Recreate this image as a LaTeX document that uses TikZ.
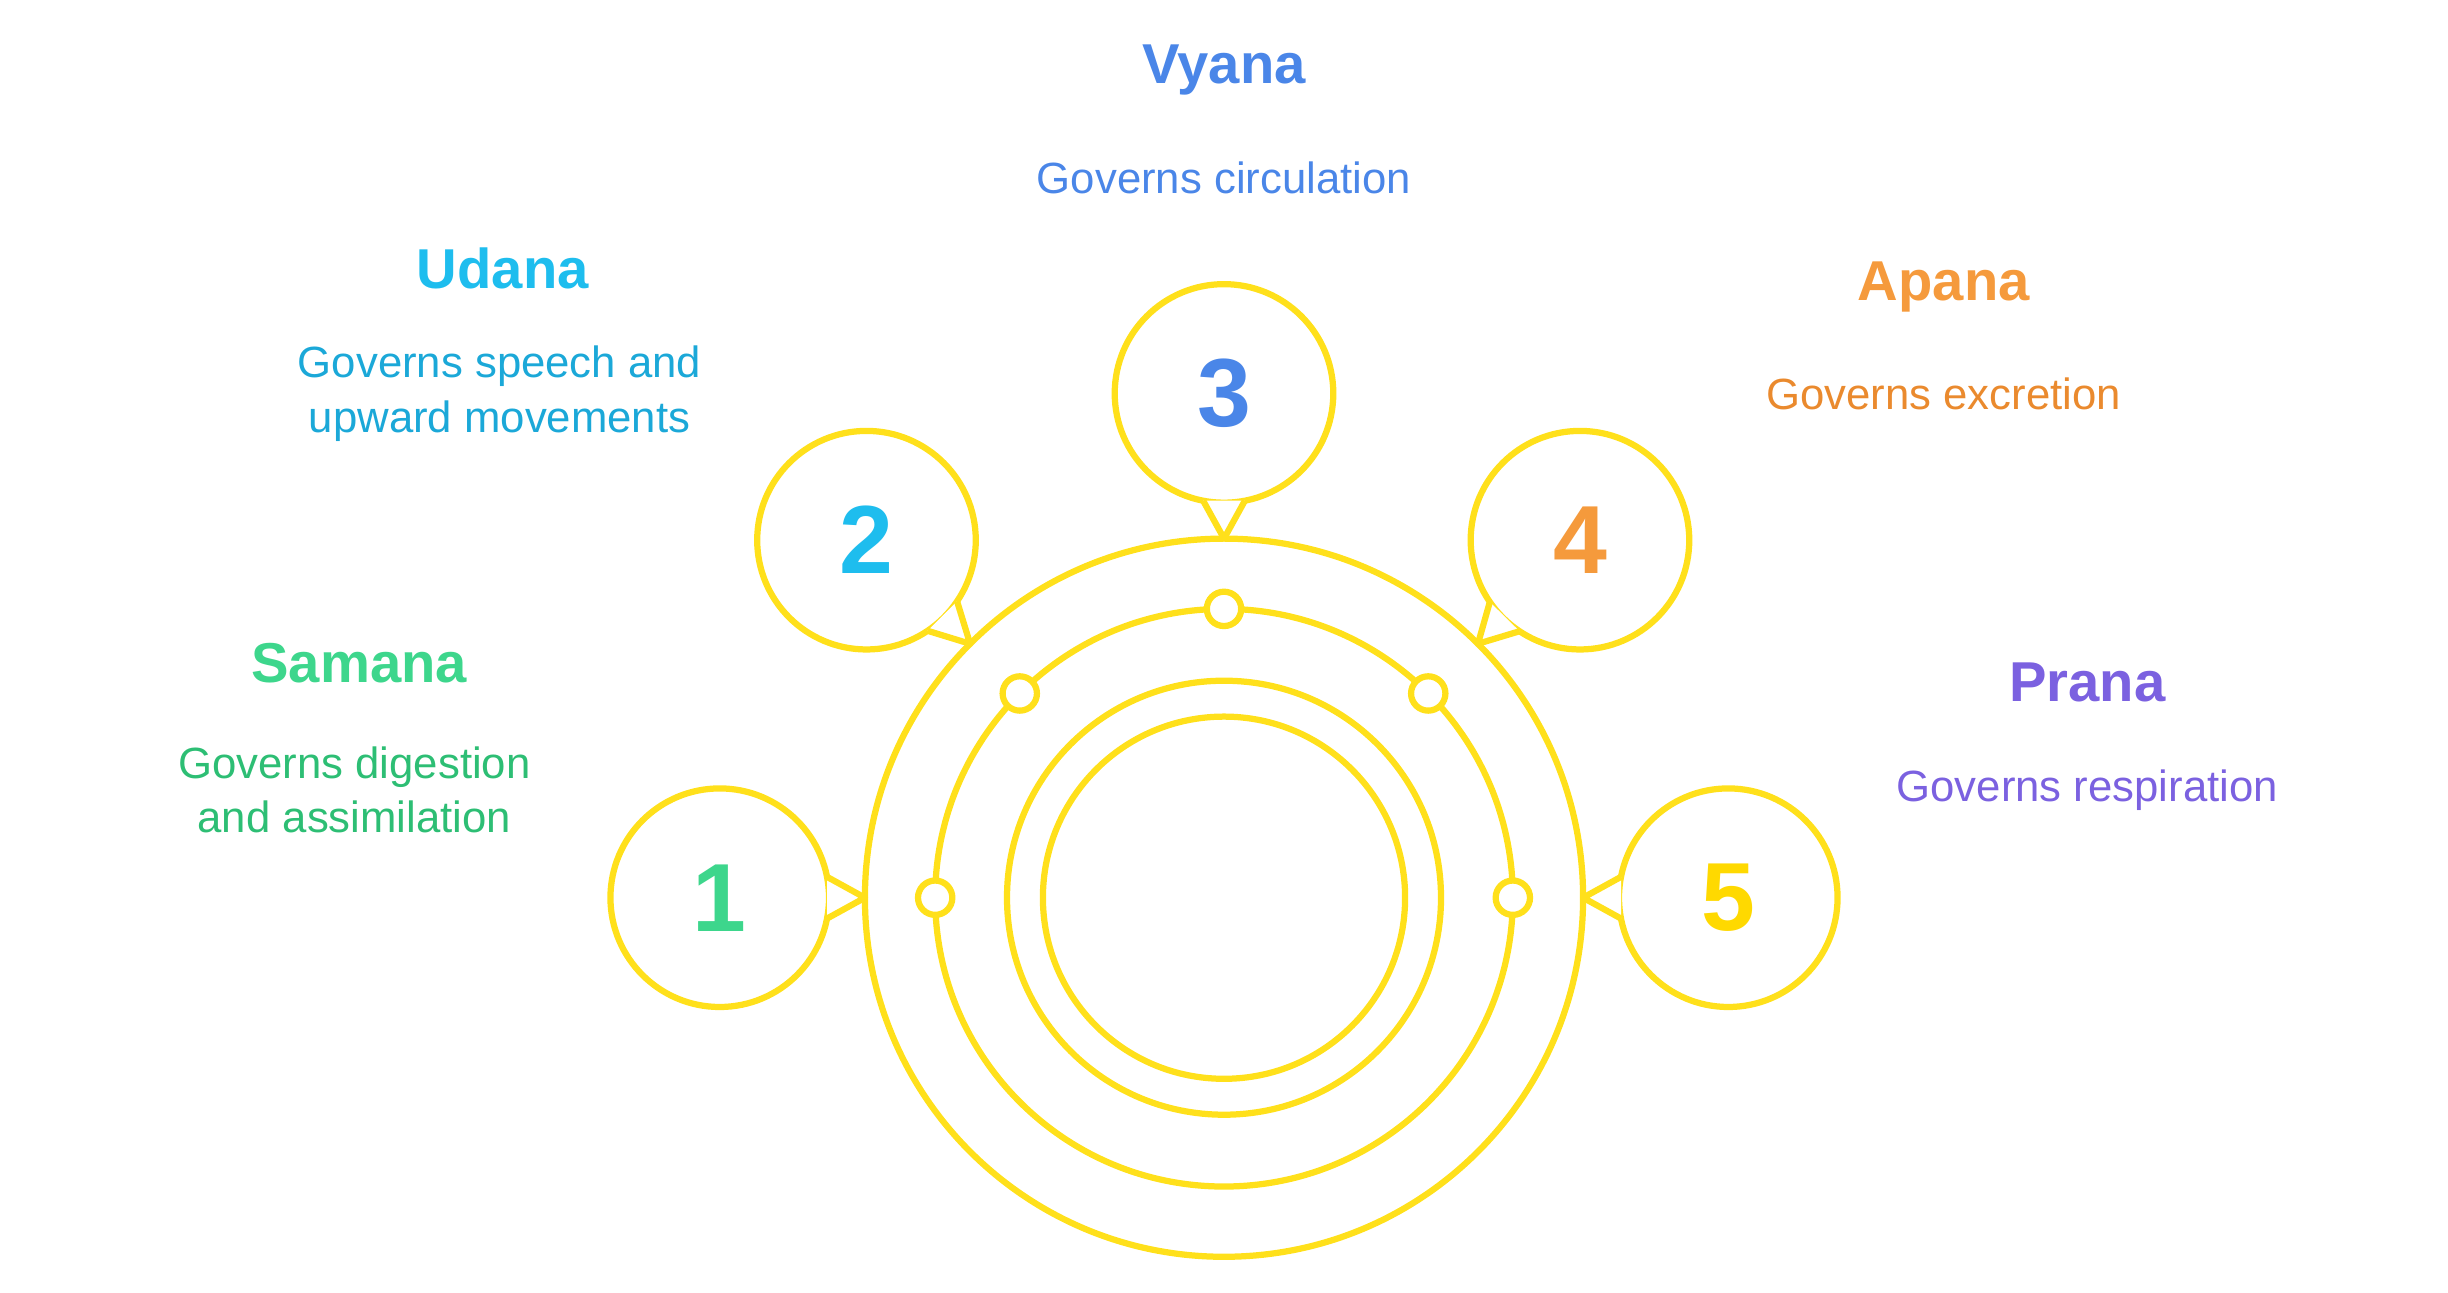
\documentclass[tikz,border=0pt]{standalone}
\usepackage{fontspec}
\setmainfont{Liberation Sans}
\usetikzlibrary{calc}
\definecolor{ring}{HTML}{FFE01B}
\definecolor{cgreen}{HTML}{3DD68C}
\definecolor{cgreenb}{HTML}{2DBE74}
\definecolor{cblue}{HTML}{1EBDEE}
\definecolor{cblueb}{HTML}{1BA8D8}
\definecolor{cvy}{HTML}{4A86E8}
\definecolor{cor}{HTML}{F59A3C}
\definecolor{corb}{HTML}{EA8A2E}
\definecolor{cpu}{HTML}{7B61E0}
\definecolor{cye}{HTML}{FFD900}
\begin{document}
\begin{tikzpicture}[x=0.5pt,y=-0.5pt,
  ln/.style={draw=ring,line width=2pt},
  bub/.style={ln,fill=white,circle,minimum size=70pt,inner sep=0pt,font=\bfseries\fontsize{31}{36}\selectfont},
  dot/.style={ln,fill=white,circle,minimum size=11pt,inner sep=0pt},
  ttl/.style={font=\bfseries\fontsize{18}{22}\selectfont},
  bod/.style={font=\fontsize{14}{17.5}\selectfont,align=center}]
\useasboundingbox (0,0) rectangle (1568,828);
\coordinate (C) at (784,575);
\draw[ln] (C) circle (115pt);
\draw[ln] (C) circle (92.5pt);
\draw[ln] (C) circle (69.5pt);
\draw[ln] (C) circle (58pt);
\foreach \n/\a in {d1/180,d2/135,d3/90,d4/45,d5/0}
  \node[dot] (\n) at ($(C)+(\a:92.5pt)$) {};
\node[bub,text=cgreen] (b1) at (461,575) {1};
\node[bub,text=cblue] (b2) at (555,346) {2};
\node[bub,text=cvy] (b3) at (784,252) {3};
\node[bub,text=cor] (b4) at (1012,346) {4};
\node[bub,text=cye] (b5) at (1107,575) {5};
\foreach \b/\a in {b1/180,b2/135,b3/90,b4/45,b5/0}{
  \coordinate (t\b) at ($(C)+(\a:115pt)$);
  \coordinate (p\b) at ($(\b.center)!35pt!11:(t\b)$);
  \coordinate (q\b) at ($(\b.center)!35pt!-11:(t\b)$);
  \fill[white] (p\b) -- (t\b) -- (q\b) -- cycle;
  \draw[ln,line join=round] (p\b) -- (t\b) -- (q\b);
}
\node[ttl,text=cvy] (vt) at (784,45) {Vyana};
\node[bod,text=cvy] (vb) at (784,114) {Governs circulation};
\node[ttl,text=cblue] (ut) at (322,172) {Udana};
\node[bod,text=cblueb] (ub) at (320,252) {Governs speech and\\upward movements};
\node[ttl,text=cor] (at) at (1245,184) {Apana};
\node[bod,text=corb] (ab) at (1245,252) {Governs excretion};
\node[ttl,text=cgreen] (st) at (230,425) {Samana};
\node[bod,text=cgreenb] (sb) at (227,506) {Governs digestion\\and assimilation};
\node[ttl,text=cpu] (pt) at (1337,437) {Prana};
\node[bod,text=cpu] (pb) at (1337,506) {Governs respiration};
\end{tikzpicture}
\end{document}
